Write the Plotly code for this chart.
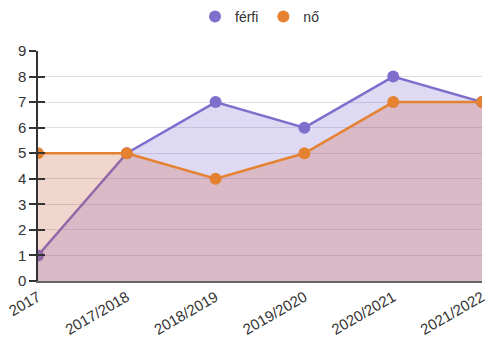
import plotly.graph_objects as go

# School years and headcounts by sex
years = ["2017", "2017/2018", "2018/2019", "2019/2020", "2020/2021", "2021/2022"]
ferfi = [1, 5, 7, 6, 8, 7]
no = [5, 5, 4, 5, 7, 7]

purple = "rgb(128,110,205)"
orange = "rgb(228,130,50)"

fig = go.Figure()
fig.add_trace(go.Scatter(
    x=years, y=ferfi, name="férfi", mode="lines+markers", showlegend=False,
    line=dict(color=purple, width=2.5),
    marker=dict(color=purple, size=12),
    fill="tozeroy", fillcolor="rgba(120,100,210,0.24)",
))
fig.add_trace(go.Scatter(
    x=years, y=no, name="nő", mode="lines+markers", showlegend=False,
    line=dict(color=orange, width=2.5),
    marker=dict(color=orange, size=12),
    fill="tozeroy", fillcolor="rgba(200,90,60,0.25)",
))
# dot-only legend entries
for name, col in (("férfi", purple), ("nő", orange)):
    fig.add_trace(go.Scatter(x=[None], y=[None], name=name, mode="markers",
                             marker=dict(color=col, size=13)))
# helper axis carrying the inner half of the crossing y ticks
fig.add_trace(go.Scatter(x=years, y=[None] * len(years), yaxis="y2",
                         showlegend=False, hoverinfo="skip"))

font = "Liberation Sans, Arial, sans-serif"
fig.update_layout(
    width=494, height=340,
    margin=dict(l=38, r=12, t=51, b=59, autoexpand=False),
    paper_bgcolor="white", plot_bgcolor="white",
    font=dict(family=font, size=13, color="#333"),
    showlegend=True,
    legend=dict(orientation="h", x=0.5, xanchor="center", y=1.148, yanchor="middle",
                font=dict(size=14, color="#333"), itemsizing="constant",
                traceorder="normal"),
    xaxis=dict(
        type="category", range=[0, len(years) - 1], automargin=False,
        tickangle=-30, tickfont=dict(size=15, color="#333"),
        showgrid=False, showline=True, linecolor="#666", linewidth=1.5,
        ticks="", zeroline=False,
    ),
    yaxis=dict(
        range=[0, 9], dtick=1, automargin=False, tickfont=dict(size=15, color="#333"),
        showgrid=True, gridcolor="rgba(170,165,190,0.4)", gridwidth=1,
        showline=True, linecolor="#333", linewidth=1.5,
        ticks="outside", ticklen=7, tickcolor="#333", tickwidth=1.5,
        zeroline=False,
    ),
    yaxis2=dict(
        range=[0, 9], dtick=1, overlaying="y", side="left", automargin=False,
        showticklabels=False, showgrid=False, showline=False, zeroline=False,
        ticks="inside", ticklen=7, tickcolor="#333", tickwidth=1.5,
    ),
)

fig.write_html("out.html")
